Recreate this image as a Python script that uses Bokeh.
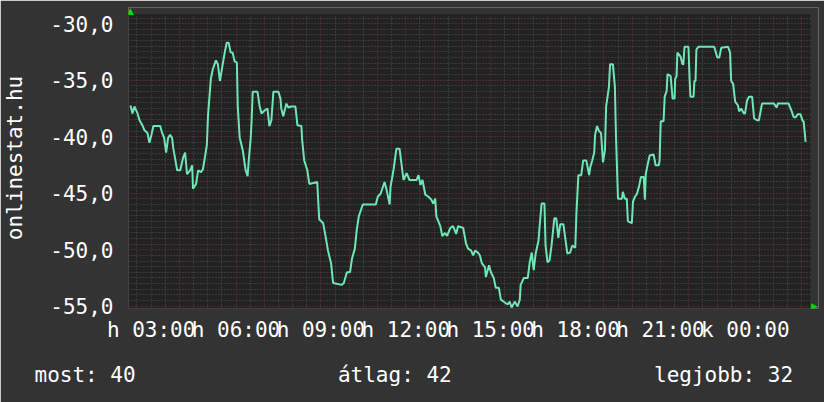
import math
from bokeh.plotting import figure
from bokeh.models import FixedTicker, Label, Range1d, BoxAnnotation, Title
from bokeh.embed import file_html
from bokeh.resources import INLINE

# time in hours since Monday 00:00 ("h" = hetfo, "k" = kedd)
times = [
    2.27, 2.34, 2.41, 2.52, 2.59, 2.69, 2.76, 2.87, 2.94, 3.01,
    3.08, 3.32, 3.39, 3.46, 3.53, 3.60, 3.67, 3.74, 3.78, 3.92,
    4.03, 4.13, 4.20, 4.27, 4.38, 4.45, 4.48, 4.59, 4.66, 4.76,
    4.83, 4.90, 4.97, 5.01, 5.11, 5.18, 5.29, 5.36, 5.43, 5.50,
    5.60, 5.67, 5.74, 5.81, 5.88, 5.95, 6.03, 6.06, 6.13, 6.24,
    6.34, 6.41, 6.45, 6.52, 6.55, 6.59, 6.76, 6.83, 6.90, 7.01,
    7.11, 7.18, 7.25, 7.32, 7.50, 7.57, 7.60, 7.67, 7.78, 7.85,
    7.95, 8.10, 8.17, 8.31, 8.34, 8.41, 8.52, 8.59, 8.87, 8.94,
    9.08, 9.18, 9.25, 9.36, 9.43, 9.74, 9.81, 9.92, 10.03, 10.10,
    10.20, 10.27, 10.34, 10.48, 10.94, 11.01, 11.11, 11.25, 11.32, 11.43,
    11.46, 11.57, 11.64, 11.67, 11.78, 11.85, 11.92, 12.03, 12.13, 12.38,
    12.45, 12.52, 12.59, 12.69, 12.80, 12.90, 12.97, 13.04, 13.08, 13.22,
    13.29, 13.39, 13.46, 13.57, 13.67, 13.78, 13.85, 14.03, 14.13, 14.20,
    14.31, 14.38, 14.45, 14.55, 14.62, 14.69, 14.80, 14.83, 14.94, 15.01,
    15.11, 15.18, 15.29, 15.36, 15.50, 15.60, 15.67, 15.74, 15.85, 15.95,
    16.03, 16.06, 16.17, 16.31, 16.38, 16.45, 16.52, 16.59, 16.69, 16.73,
    16.80, 16.90, 16.94, 17.01, 17.08, 17.15, 17.25, 17.32, 17.39, 17.46,
    17.57, 17.64, 17.71, 17.81, 17.88, 17.99, 18.03, 18.10, 18.20, 18.27,
    18.38, 18.48, 18.52, 18.59, 18.66, 18.69, 18.76, 18.83, 18.90, 18.97,
    19.04, 19.08, 19.18, 19.22, 19.32, 19.39, 19.43, 19.50, 19.64, 19.67,
    19.74, 19.81, 19.85, 19.99, 20.03, 20.10, 20.17, 20.24, 20.31, 20.41,
    20.45, 20.48, 20.55, 20.62, 20.76, 20.83, 20.94, 20.97, 21.01, 21.11,
    21.15, 21.22, 21.25, 21.36, 21.43, 21.50, 21.52, 21.57, 21.60, 21.71,
    21.78, 21.81, 21.85, 21.99, 22.03, 22.06, 22.17, 22.20, 22.24, 22.27,
    22.34, 22.90, 23.01, 23.08, 23.15, 23.39, 23.46, 23.50, 23.57, 23.64,
    23.74, 23.78, 23.85, 23.95, 23.99, 24.06, 24.13, 24.24, 24.31, 24.41,
    24.48, 24.59, 25.01, 25.11, 25.15, 25.53, 25.64, 25.71, 25.78, 25.85,
    25.95, 26.03, 26.06, 26.13,
]

values = [
    -37.24, -37.94, -37.33, -37.94, -38.54, -38.98, -39.41, -39.67, -40.54, -39.84,
    -39.06, -39.06, -39.67, -40.10, -41.40, -40.10, -39.84, -40.10, -40.97, -42.97,
    -42.97, -41.84, -41.40, -43.31, -42.97, -42.53, -44.61, -44.18, -42.97, -43.14,
    -42.88, -41.84, -40.71, -38.11, -34.90, -34.03, -33.25, -33.60, -35.07, -34.03,
    -32.56, -31.69, -31.69, -32.56, -32.56, -33.34, -33.43, -37.24, -40.10, -41.23,
    -42.97, -43.49, -42.10, -40.10, -38.63, -36.03, -36.03, -37.24, -37.94, -37.68,
    -37.50, -39.06, -38.54, -36.03, -36.03, -36.63, -37.50, -38.20, -37.07, -37.42,
    -37.33, -37.33, -38.98, -39.06, -40.36, -42.10, -42.97, -44.18, -44.01, -47.30,
    -47.65, -49.04, -50.08, -51.21, -52.94, -53.11, -52.94, -51.99, -51.99, -50.77,
    -49.90, -48.17, -47.04, -46.00, -46.00, -45.31, -45.05, -44.01, -44.70, -46.00,
    -44.44, -42.88, -41.58, -41.06, -41.06, -42.45, -43.83, -43.23, -43.83, -43.83,
    -43.40, -44.27, -43.83, -45.13, -45.31, -45.57, -45.91, -45.48, -47.04, -47.91,
    -48.78, -48.52, -48.78, -48.08, -47.91, -48.60, -47.91, -48.08, -49.47, -49.90,
    -50.08, -50.51, -50.08, -50.25, -50.51, -51.21, -51.55, -52.42, -51.38, -51.99,
    -52.51, -53.37, -53.37, -54.41, -54.67, -54.85, -54.59, -55.11, -54.59, -55.02,
    -54.41, -53.11, -52.51, -52.51, -51.12, -50.25, -51.81, -50.34, -49.21, -47.91,
    -45.91, -45.91, -49.64, -51.12, -50.95, -49.64, -47.22, -47.22, -48.95, -47.74,
    -47.74, -49.04, -50.34, -50.25, -49.64, -49.82, -46.78, -43.40, -43.40, -42.10,
    -42.10, -43.40, -42.71, -42.10, -41.40, -39.84, -39.06, -39.50, -39.67, -42.27,
    -41.14, -37.33, -35.59, -33.60, -33.60, -35.59, -40.10, -45.48, -45.48, -44.87,
    -45.48, -45.48, -47.48, -47.65, -45.74, -45.31, -45.05, -44.44, -43.57, -43.57,
    -45.57, -43.31, -42.45, -41.66, -41.58, -42.53, -42.53, -42.10, -38.63, -38.63,
    -36.46, -35.94, -34.47, -34.64, -36.63, -36.63, -34.90, -34.64, -32.56, -32.91,
    -33.60, -33.60, -32.04, -32.04, -34.90, -36.46, -36.46, -35.07, -35.07, -32.30,
    -32.04, -32.04, -32.99, -32.99, -32.12, -32.04, -32.56, -35.07, -35.33, -36.89,
    -37.24, -37.76, -37.50, -37.94, -37.94, -36.81, -36.46, -36.46, -38.37, -38.54,
    -38.54, -37.07, -37.07, -37.42, -37.07, -37.07, -37.76, -38.28, -38.28, -38.02,
    -38.02, -38.63, -38.63, -40.45,
]

x_tick_values = [3, 6, 9, 12, 15, 18, 21, 24]
x_tick_labels = ["h 03:00", "h 06:00", "h 09:00", "h 12:00",
                 "h 15:00", "h 18:00", "h 21:00", "k 00:00"]
y_tick_values = [-55, -50, -45, -40, -35, -30]
y_tick_labels = ["-55,0", "-50,0", "-45,0", "-40,0", "-35,0", "-30,0"]
y_title = "onlinestat.hu"
summary_texts = ["most: 40", "átlag: 42", "legjobb: 32"]

assert len(times) == len(values)

# ---- layout / style ----
XS, YS = 28.5, 11.528            # px per hour, px per unit
X0 = 2.2                          # data area left
X1 = X0 + 687 / XS                # data area right
Y1 = -30 + 9.5 / YS               # data area top
Y0 = Y1 - 300 / YS                # data area bottom
FX1 = X0 + 695 / XS               # frame right (room for arrow)
FY1 = Y1 + 7 / YS                 # frame top (room for arrow)

W, H = 824, 402
BL, BR, BT, BB = 123, 6, 7, 88

FONT = "DejaVu Sans Mono"
FS = "21px"
TXT = "#ffffff"
BG = "#333333"
PLOT_BG = "#222222"
LINE = "#6fe6b6"
ARROW = "#00dd00"

p = figure(width=W, height=H, x_range=Range1d(X0, FX1), y_range=Range1d(Y0, FY1),
           output_backend="svg", toolbar_location=None,
           background_fill_color=BG, border_fill_color=BG,
           min_border_left=BL, min_border_right=BR,
           min_border_top=BT, min_border_bottom=BB)
p.outline_line_color = None

# dark data area
p.add_layout(BoxAnnotation(left=X0, right=X1, bottom=Y0, top=Y1,
                           fill_color=PLOT_BG, fill_alpha=1.0,
                           line_color=None, level="image"))

# axes
p.xaxis.ticker = FixedTicker(ticks=x_tick_values)
p.xaxis.major_label_overrides = dict(zip(x_tick_values, x_tick_labels))
p.yaxis.ticker = FixedTicker(ticks=y_tick_values)
p.yaxis.major_label_overrides = dict(zip(y_tick_values, y_tick_labels))
for ax in (p.xaxis[0], p.yaxis[0]):
    ax.major_tick_line_color = None
    ax.minor_tick_line_color = None
    ax.major_tick_out = 0
    ax.major_tick_in = 0
    ax.minor_tick_out = 0
    ax.minor_tick_in = 0
    ax.axis_line_color = "#404040"
    ax.major_label_text_font = FONT
    ax.major_label_text_font_size = FS
    ax.major_label_text_color = TXT
p.xaxis.bounds = (X0, X1)
p.yaxis.bounds = (Y0, Y1)
p.xaxis.major_label_standoff = 9
p.yaxis.major_label_standoff = 15
p.yaxis.axis_label = y_title
p.yaxis.axis_label_text_font = FONT
p.yaxis.axis_label_text_font_size = FS
p.yaxis.axis_label_text_font_style = "normal"
p.yaxis.axis_label_text_color = TXT
p.yaxis.axis_label_standoff = 20

# grids
hour_lines = [float(h) for h in range(3, 27)]
half_hour_lines = [h + 0.5 for h in range(2, 26)]
p.xgrid.ticker = FixedTicker(ticks=hour_lines, minor_ticks=half_hour_lines)
y_minor = [-55 + 0.5 * i for i in range(1, 52) if i % 10 != 0]
p.ygrid.ticker = FixedTicker(ticks=y_tick_values, minor_ticks=y_minor)
p.xgrid.bounds = (X0, X1)
p.ygrid.bounds = (Y0, Y1)
try:
    p.xgrid.cross_bounds = (Y0, Y1)
    p.ygrid.cross_bounds = (X0, X1)
except Exception:
    pass
for g in (p.xgrid[0], p.ygrid[0]):
    g.grid_line_color = "#7a3434"
    g.grid_line_dash = "1 2"
    g.grid_line_width = 1
    g.minor_grid_line_color = "#525252"
    g.minor_grid_line_dash = "1 2"
    g.minor_grid_line_width = 1

# data line
p.line(times, values, line_color=LINE, line_width=2)

# axis arrows (inside the frame margin)
p.add_layout(Label(x=X0 + 2 / XS, y=Y1 + 3.5 / YS, text="▲", text_align="center",
                   text_baseline="middle", text_font="DejaVu Sans",
                   text_font_size="9px", text_color=ARROW))
p.add_layout(Label(x=X1 + 4 / XS, y=Y0 + 3 / YS, text="▶", text_align="center",
                   text_baseline="middle", text_font="DejaVu Sans",
                   text_font_size="9px", text_color=ARROW))

# summary line below the axis (monospace, spaced with no-break spaces)
gap = "\u00a0" * 16
summary = Title(text=gap.join(summary_texts), align="left", offset=-94,
                vertical_align="bottom", standoff=32,
                text_font=FONT, text_font_size=FS, text_font_style="normal",
                text_color=TXT)
p.add_layout(summary, "below")

open("out.html", "w").write(file_html(p, INLINE))
